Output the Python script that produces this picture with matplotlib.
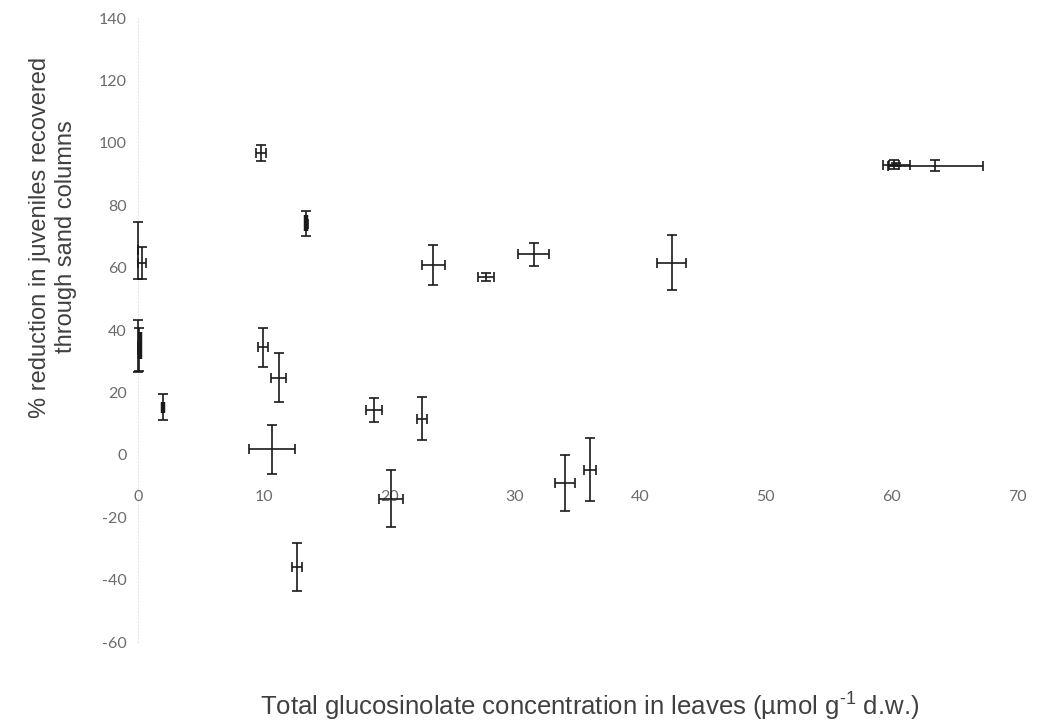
import matplotlib
matplotlib.use("Agg")
import matplotlib.pyplot as plt
import numpy as np

# leaf glucosinolate (x) vs % reduction in juveniles (y), with SE in both
gsl = [0.0, 0.3, 0.0, 0.1, 2.0, 9.8, 13.4, 9.93, 11.2, 10.65, 12.67, 18.8,
       20.15, 22.6, 23.5, 27.7, 31.5, 42.5, 34.0, 36.0, 60.2, 60.4, 63.5]
gsl_err = [0.0, 0.3, 0.0, 0.1, 0.1, 0.4, 0.1, 0.4, 0.6, 1.85, 0.4, 0.65,
           0.92, 0.4, 0.92, 0.64, 1.2, 1.17, 0.78, 0.45, 0.4, 1.1, 3.8]
red = [65.5, 61.5, 34.9, 33.7, 15.3, 96.8, 74.1, 34.5, 24.7, 1.8, -36.1, 14.4,
       -14.1, 11.5, 60.7, 57.1, 64.2, 61.6, -9.1, -4.8, 93.0, 93.0, 92.7]
red_err = [9.2, 5.0, 8.4, 6.8, 4.2, 2.5, 3.9, 6.2, 7.9, 7.8, 7.7, 3.8,
           9.2, 6.9, 6.4, 1.3, 3.7, 8.85, 9.0, 10.1, 1.4, 0.5, 1.7]

# heavily overlapping bars that print as thick black blobs
blob_x = [0.15, 2.0, 13.4]
blob_y = [35.0, 15.2, 74.2]
blob_err = [4.3, 1.8, 2.6]

xticks = np.arange(0, 71, 10)
yticks = np.arange(-60, 141, 20)

plt.rcParams["mathtext.fontset"] = "custom"
plt.rcParams["mathtext.rm"] = "Liberation Sans"
plt.rcParams["axes.unicode_minus"] = False

fig = plt.figure(figsize=(10.37, 7.26), dpi=100)
ax = fig.add_axes([138 / 1037, 1 - 642 / 726, 879 / 1037, 624 / 726])

bars = ax.errorbar(gsl, red, xerr=gsl_err, yerr=red_err, fmt="none",
                   ecolor="#1a1a1a", elinewidth=1.2, capsize=3.5, capthick=1.2)
blobs = ax.errorbar(blob_x, blob_y, yerr=blob_err, fmt="none",
                    ecolor="#1a1a1a", elinewidth=3.2, capsize=0)
for cont in (bars, blobs):
    for art in cont.lines[1] + cont.lines[2]:
        art.set_clip_on(False)

ax.set_xlim(0, 70)
ax.set_ylim(-60, 140)
ax.set_xticks(xticks)
ax.set_yticks(yticks)

for s in ("top", "right"):
    ax.spines[s].set_visible(False)
ax.spines["left"].set_position(("data", 0))
ax.spines["left"].set_color("#e6e6e6")
ax.spines["left"].set_linestyle((0, (1, 2)))
ax.spines["left"].set_zorder(0)
ax.spines["bottom"].set_position(("data", 0))
ax.spines["bottom"].set_visible(False)

ax.tick_params(axis="both", length=0)
ax.tick_params(axis="y", pad=8)
ax.tick_params(axis="x", pad=25)
for lab in ax.get_xticklabels() + ax.get_yticklabels():
    lab.set_fontfamily("Lato")
    lab.set_fontsize(11.5)
    lab.set_color("#6b6b6b")

fig.text(53 / 1037, 1 - 237 / 726,
         "% reduction in juveniles recovered\nthrough sand columns",
         rotation=90, ha="center", va="center", multialignment="center",
         linespacing=1.25, family="Liberation Sans", fontsize=17,
         color="#404040")
fig.text(590 / 1037, 1 - 706 / 726,
         r"Total glucosinolate concentration in leaves (µmol g$^{\text{-1}}$ d.w.)",
         ha="center", va="center", family="Liberation Sans", fontsize=18.5,
         color="#404040")

fig.savefig("out.png", dpi=100, facecolor="white")
